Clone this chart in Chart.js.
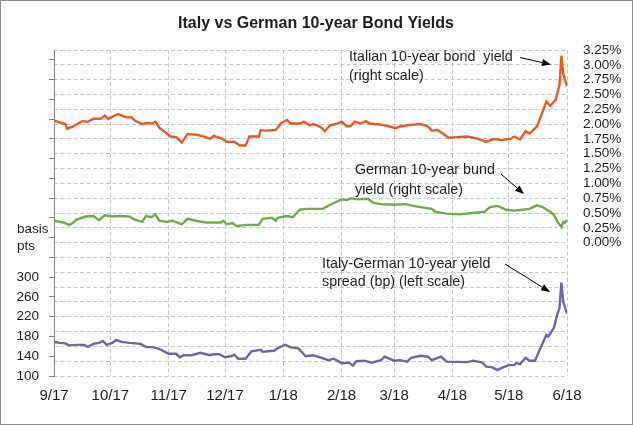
<!DOCTYPE html>
<html>
  <head>
    <meta charset="utf-8" />
    <title>Italy vs German 10-year Bond Yields</title>
    <script src="https://cdn.jsdelivr.net/npm/chart.js"></script>
    <style>
      html,
      body {
        margin: 0;
        padding: 0;
        background: #ffffff;
      }
      #box {
        width: 633px;
        height: 425px;
      }
    </style>
  </head>

  <body>
    <div id="box"><canvas id="bonds" width="633" height="425"></canvas></div>

    <script type="text/javascript">
      // days counted from 1 Sep 2017
      var monthDays = [0, 30, 61, 91, 122, 153, 181, 212, 242, 273];
      var monthLabels = ["9/17", "10/17", "11/17", "12/17", "1/18", "2/18", "3/18", "4/18", "5/18", "6/18"];

      // Italian 10-year bond yield, % (right scale)
      var itDays = [0, 3, 6, 7, 10, 15, 18, 21, 25, 27, 29, 34, 39, 41, 43, 47, 49, 52, 54, 56,
        62, 65, 68, 71, 76, 80, 83, 85, 89, 92, 96, 99, 102, 104, 109, 110, 112, 118, 121, 124,
        126, 131, 133, 136, 138, 142, 144, 147, 151, 153, 156, 158, 160, 163, 166, 168, 174, 177, 182, 184,
        188, 195, 199, 201, 204, 207, 210, 214, 220, 225, 230, 234, 238, 243, 245, 248, 251, 253, 255, 257,
        260, 262, 264, 267, 269, 270, 271, 273];
      var itYield = [2.06, 2.03, 2.00, 1.92, 1.96, 2.05, 2.04, 2.09, 2.09, 2.14, 2.09, 2.17, 2.11, 2.12, 2.06, 2.00, 2.02, 2.01, 2.04, 1.94,
        1.79, 1.78, 1.69, 1.83, 1.82, 1.79, 1.75, 1.80, 1.76, 1.70, 1.70, 1.64, 1.64, 1.79, 1.79, 1.90, 1.89, 1.90, 2.02, 2.07,
        2.01, 2.01, 2.04, 1.98, 2.00, 1.95, 1.88, 1.98, 2.01, 2.04, 1.96, 1.97, 2.04, 2.01, 2.05, 2.01, 1.99, 1.97, 1.93, 1.96,
        1.98, 2.00, 1.96, 1.89, 1.90, 1.84, 1.77, 1.78, 1.79, 1.76, 1.70, 1.75, 1.73, 1.75, 1.79, 1.74, 1.88, 1.84, 1.90, 1.96,
        2.21, 2.38, 2.31, 2.41, 2.66, 3.15, 2.85, 2.64];

      // German 10-year bund yield, % (right scale)
      var deDays = [0, 5, 8, 10, 12, 17, 21, 24, 27, 31, 35, 40, 43, 47, 49, 52, 54, 56, 60, 63,
        68, 71, 77, 81, 89, 90, 92, 95, 97, 103, 109, 111, 116, 118, 119, 124, 127, 131, 135, 143,
        147, 153, 156, 158, 161, 167, 170, 174, 181, 187, 191, 201, 203, 209, 216, 223, 229, 232, 236, 241,
        245, 248, 253, 257, 260, 264, 266, 268, 270, 271, 272, 273];
      var deYield = [0.37, 0.34, 0.30, 0.33, 0.39, 0.44, 0.45, 0.38, 0.46, 0.44, 0.45, 0.44, 0.39, 0.35, 0.45, 0.43, 0.48, 0.37, 0.35, 0.37,
        0.31, 0.40, 0.36, 0.34, 0.34, 0.37, 0.31, 0.33, 0.28, 0.30, 0.30, 0.40, 0.42, 0.37, 0.42, 0.45, 0.43, 0.56, 0.57, 0.57,
        0.64, 0.73, 0.72, 0.75, 0.73, 0.74, 0.67, 0.65, 0.64, 0.65, 0.62, 0.57, 0.52, 0.49, 0.48, 0.50, 0.52, 0.60, 0.62, 0.55,
        0.54, 0.55, 0.57, 0.63, 0.60, 0.52, 0.47, 0.35, 0.26, 0.35, 0.34, 0.38];

      // Italy-German spread, basis points (left scale)
      var spDays = [0, 3, 6, 8, 12, 16, 18, 21, 24, 26, 28, 31, 33, 36, 40, 46, 49, 53, 55, 57,
        61, 65, 67, 69, 73, 78, 83, 85, 88, 91, 94, 96, 98, 102, 105, 110, 111, 117, 120, 123,
        126, 130, 134, 138, 142, 146, 149, 153, 157, 159, 161, 165, 169, 174, 176, 181, 184, 188, 190, 195,
        199, 201, 206, 209, 220, 223, 228, 230, 233, 236, 238, 242, 245, 246, 248, 251, 253, 256, 258, 260,
        262, 263, 266, 268, 269, 270, 271, 273];
      var spread = [169, 167, 166, 162, 163, 163, 159, 165, 167, 171, 163, 167, 173, 169, 167, 165, 159, 158, 156, 153,
        145, 145, 138, 142, 142, 147, 142, 144, 144, 138, 140, 143, 135, 135, 150, 153, 149, 151, 158, 163,
        158, 156, 140, 142, 137, 132, 135, 126, 127, 121, 130, 131, 127, 132, 139, 131, 132, 129, 137, 141,
        139, 132, 139, 129, 128, 131, 127, 119, 118, 112, 116, 122, 122, 126, 124, 137, 131, 131, 149, 166,
        183, 180, 197, 227, 237, 289, 250, 227];

      var gridGrey = "#c8c8c8";
      var textColor = "#1f1f1f";
      var fontFamily = "'Liberation Sans', Arial, sans-serif";

      function points(days, vals) {
        var out = [];
        for (var n = 0; n < days.length; n++) out.push({ x: days[n], y: vals[n] });
        return out;
      }

      // ---------------------------------------------
      function arrow(ctx, x1, y1, x2, y2) {
        var a = Math.atan2(y2 - y1, x2 - x1);
        var len = 9, half = 3.5;
        var bx = x2 - len * Math.cos(a), by = y2 - len * Math.sin(a);
        ctx.beginPath();
        ctx.moveTo(x1, y1);
        ctx.lineTo(bx, by);
        ctx.stroke();
        ctx.beginPath();
        ctx.moveTo(x2, y2);
        ctx.lineTo(bx + half * Math.sin(a), by - half * Math.cos(a));
        ctx.lineTo(bx - half * Math.sin(a), by + half * Math.cos(a));
        ctx.closePath();
        ctx.fill();
      }

      // title, notes, arrows and the frame round the chart
      var notesPlugin = {
        id: "notes",
        afterDraw: function (chart) {
          var ctx = chart.ctx;
          ctx.save();
          ctx.fillStyle = textColor;
          ctx.strokeStyle = "#000000";
          ctx.lineWidth = 1;

          ctx.textAlign = "center";
          ctx.textBaseline = "alphabetic";
          ctx.font = "bold 16px " + fontFamily;
          ctx.fillText("Italy vs German 10-year Bond Yields", 316, 27.5);

          ctx.textAlign = "left";
          ctx.font = "14.3px " + fontFamily;
          ctx.fillText("Italian 10-year bond  yield", 349, 60.5);
          ctx.fillText("(right scale)", 349, 80);
          ctx.fillText("German 10-year bund", 355, 174);
          ctx.fillText("yield (right scale)", 355, 193.5);
          ctx.fillText("Italy-German 10-year yield", 322, 267.5);
          ctx.fillText("spread (bp) (left scale)", 322, 285.5);

          ctx.font = "13.5px " + fontFamily;
          ctx.fillText("basis", 17, 232.5);
          ctx.fillText("pts", 17, 250);

          ctx.fillStyle = "#000000";
          arrow(ctx, 520, 57.5, 551, 64.5);
          arrow(ctx, 501, 174, 524, 194);
          arrow(ctx, 505, 264, 550, 292);

          ctx.strokeStyle = "#8c8c8c";
          ctx.strokeRect(0.5, 0.5, chart.width - 1, chart.height - 1);
          ctx.restore();
        },
      };

      var chartConfig = {
        type: "line",
        data: {
          datasets: [
            {
              label: "Italian 10-year bond yield",
              yAxisID: "yR",
              data: points(itDays, itYield),
              borderColor: "#eb5a1e",
              borderWidth: 2.4,
              pointRadius: 0,
              tension: 0,
              fill: false,
            },
            {
              label: "German 10-year bund yield",
              yAxisID: "yR",
              data: points(deDays, deYield),
              borderColor: "#70ad47",
              borderWidth: 2.4,
              pointRadius: 0,
              tension: 0,
              fill: false,
            },
            {
              label: "Italy-German 10-year yield spread",
              yAxisID: "yL",
              data: points(spDays, spread),
              borderColor: "#7262b2",
              borderWidth: 2.4,
              pointRadius: 0,
              tension: 0,
              fill: false,
            },
          ],
        },
        options: {
          responsive: false,
          animation: false,
          layout: { padding: { top: 50, left: 0, right: 0, bottom: 0 } },
          plugins: {
            legend: { display: false },
            title: { display: false },
            tooltip: { enabled: false },
          },
          scales: {
            x: {
              type: "linear",
              min: 0,
              max: 273,
              afterBuildTicks: function (scale) {
                scale.ticks = monthDays.map(function (d) {
                  return { value: d };
                });
              },
              afterFit: function (scale) {
                scale.height = 49;
              },
              ticks: {
                autoSkip: false,
                maxRotation: 0,
                padding: 11,
                color: textColor,
                font: { family: fontFamily, size: 15 },
                callback: function (value, index) {
                  return monthLabels[index];
                },
              },
              grid: {
                drawTicks: false,
                color: function (c) {
                  return c.tick && c.tick.value === 0 ? "rgba(0,0,0,0)" : gridGrey;
                },
              },
              border: { display: false, dash: [4, 2.5] },
            },
            yL: {
              type: "linear",
              position: "left",
              min: 100,
              max: 760,
              afterBuildTicks: function (scale) {
                var t = [];
                for (var v = 100; v <= 740; v += 40) t.push({ value: v });
                scale.ticks = t;
              },
              afterFit: function (scale) {
                scale.width = 54;
              },
              ticks: {
                autoSkip: false,
                padding: 10,
                color: textColor,
                font: { family: fontFamily, size: 13.5 },
                callback: function (value) {
                  return value <= 300 ? String(value) : "";
                },
              },
              grid: {
                drawOnChartArea: false,
                drawTicks: true,
                tickLength: 5,
                tickColor: "#868686",
              },
              border: { display: true, color: "#868686", width: 1 },
            },
            yR: {
              type: "linear",
              position: "right",
              min: -2.25,
              max: 3.25,
              afterBuildTicks: function (scale) {
                var t = [];
                for (var i = 0; i <= 22; i++) t.push({ value: -2.25 + i * 0.25 });
                scale.ticks = t;
              },
              afterFit: function (scale) {
                scale.width = 66;
              },
              ticks: {
                autoSkip: false,
                padding: 16,
                color: textColor,
                font: { family: fontFamily, size: 13.5 },
                callback: function (value) {
                  return value < -0.001 ? "" : value.toFixed(2) + "%";
                },
              },
              grid: { drawTicks: false, color: gridGrey },
              border: { display: false, dash: [4, 2.5] },
            },
          },
        },
        plugins: [notesPlugin],
      };

      var bondChart = new Chart(document.getElementById("bonds"), chartConfig);
    </script>
  </body>
</html>
